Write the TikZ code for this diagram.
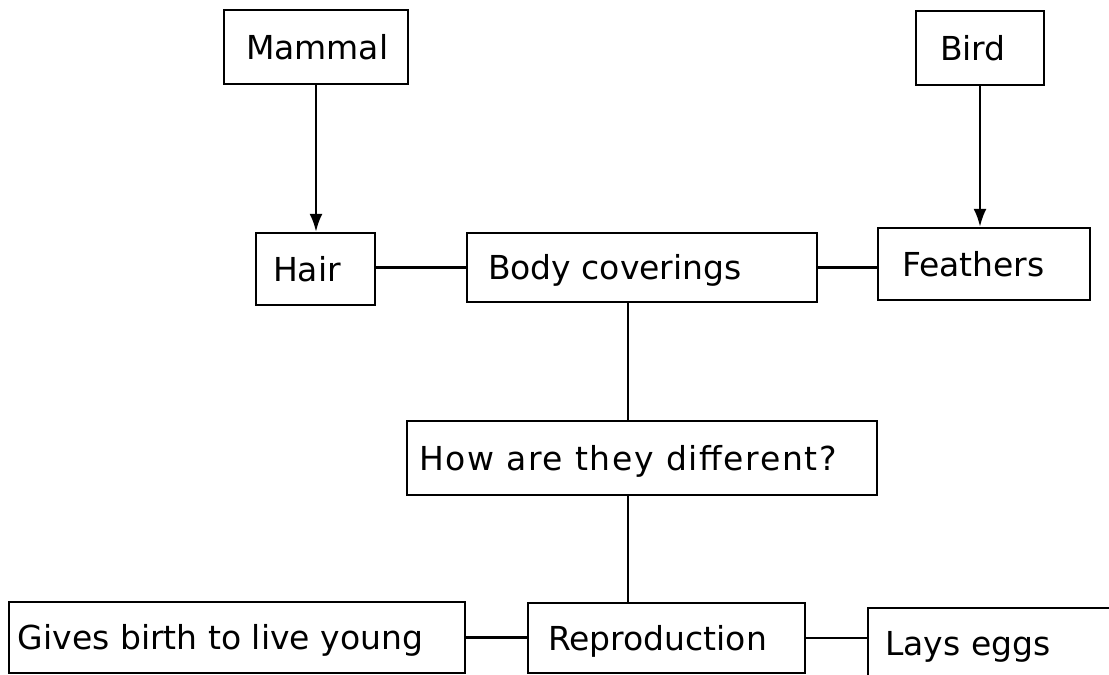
\documentclass[tikz,border=0pt]{standalone}
\usepackage{fontspec}
\setmainfont{DejaVu Sans}
\usetikzlibrary{arrows.meta}
\tikzset{
  box/.style={draw=black, line width=2.4pt, rectangle, inner sep=0pt,
    text height=24pt, text depth=0pt, font=\fontsize{33}{40}\selectfont},
  link/.style={draw=black, line width=2.4pt},
  arr/.style={link, -{Latex[length=18pt,width=13pt]}}
}
\newcommand{\boxtext}[3]{\makebox[#1pt][l]{\hspace{#2pt}#3}}
\begin{document}
\begin{tikzpicture}[x=1pt,y=-1pt]
\useasboundingbox (0,0) rectangle (1109,675);
\clip (0,0) rectangle (1109,675);
\fill[white] (0,0) rectangle (1109,675);
\node[box, minimum height=74pt] (mammal) at (316,47) {\boxtext{184}{22}{Mammal}};
\node[box, minimum height=74pt] (bird) at (980,48) {\boxtext{128}{24}{Bird}};
\node[box, minimum height=72pt] (hair) at (315.5,269) {\boxtext{119}{17}{Hair}};
\node[box, minimum height=69pt] (body) at (642,267.5) {\boxtext{350}{21}{Body coverings}};
\node[box, minimum height=72pt] (feathers) at (984,264) {\boxtext{212}{24}{Feathers}};
\node[box, minimum height=74pt] (how) at (642,458) {\boxtext{470}{12}{\addfontfeatures{LetterSpace=5}How are they different?}};
\node[box, minimum height=71pt] (gives) at (237,637.5) {\boxtext{456}{9}{Gives birth to live young}};
\node[box, minimum height=70pt] (repro) at (666.5,638) {\boxtext{277}{20}{Reproduction}};
\node[box, minimum height=70pt, anchor=north west] (lays) at (867,607) {\boxtext{273}{17}{Lays eggs}};
\coordinate (vx) at (628,0);
\draw[arr] (mammal.south) -- (mammal.south |- hair.north);
\draw[arr] (bird.south) -- (bird.south |- feathers.north);
\draw[link] (body.west -| hair.east) -- (body.west);
\draw[link] (body.east) -- (body.east -| feathers.west);
\draw[link] (body.south -| vx) -- (how.north -| vx);
\draw[link] (how.south -| vx) -- (repro.north -| vx);
\draw[link] (gives.east) -- (gives.east -| repro.west);
\draw[link] (repro.east) -- (repro.east -| lays.west);
\end{tikzpicture}
\end{document}
